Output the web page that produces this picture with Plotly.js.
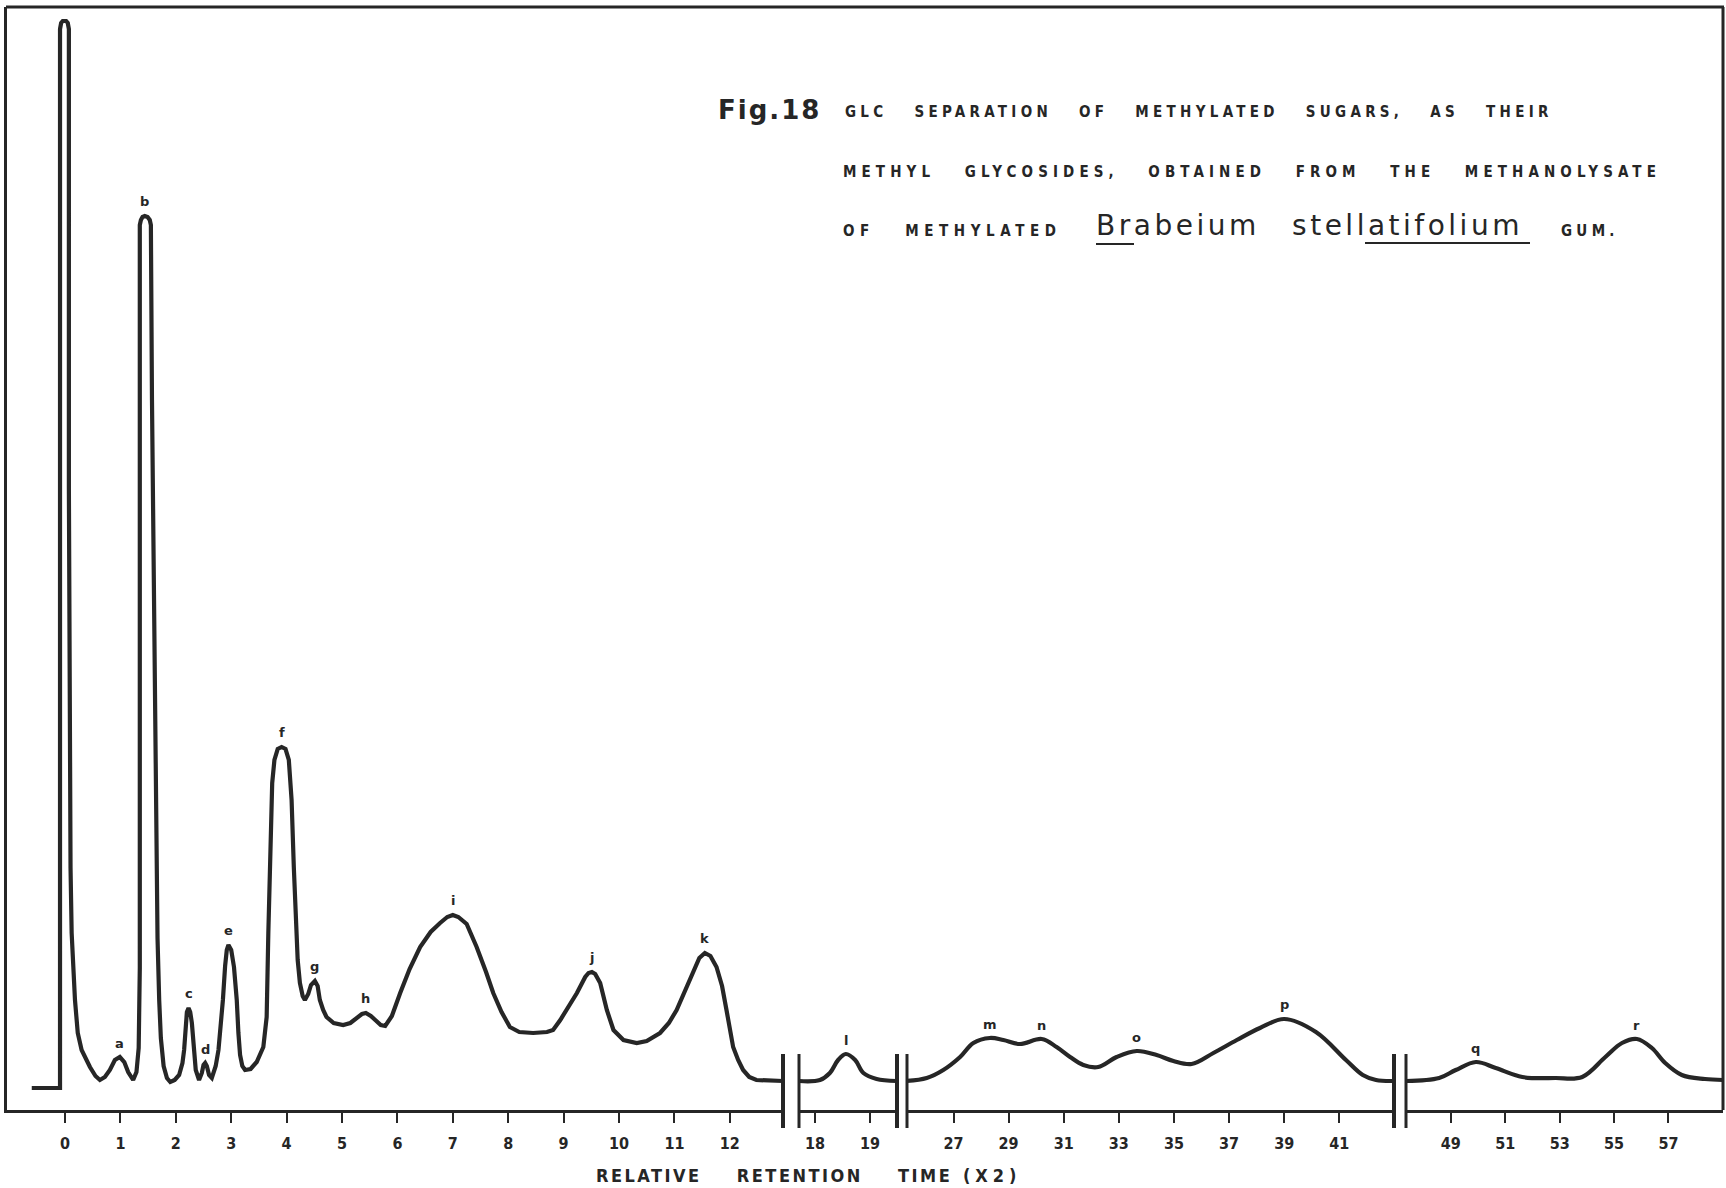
<!DOCTYPE html>
<html>
<head>
<meta charset="utf-8">
<script src="https://cdn.plot.ly/plotly-3.0.1.min.js"></script>
<style>
  html, body { margin: 0; padding: 0; background: #ffffff; }
  #chart { width: 1726px; height: 1188px; }
</style>
</head>
<body>
<div id="chart"></div>
<script>
// GLC trace of the methyl glycosides, recorded on a broken time axis.
// Relative retention time (x2) and detector response (arbitrary units).

// Segment 1: 0 - 13
const seg1Time = [-0.60, -0.09, -0.09, -0.07, -0.04, 0.02, 0.05, 0.07, 0.07, 0.08, 0.10, 0.12, 0.18, 0.23, 0.30, 0.45, 0.55, 0.63,
  0.72, 0.81, 0.90, 0.99, 1.07, 1.14, 1.23,
  1.29, 1.33, 1.35, 1.35, 1.37, 1.40, 1.44, 1.49, 1.53, 1.55, 1.57, 1.62, 1.67, 1.70, 1.73, 1.78, 1.84, 1.90,
  1.98, 2.06, 2.12, 2.15, 2.18, 2.20, 2.23, 2.26, 2.29, 2.32, 2.36, 2.42,
  2.47, 2.50, 2.53, 2.56, 2.60, 2.65,
  2.72, 2.77, 2.81, 2.85, 2.89, 2.92, 2.95, 3.00, 3.05, 3.10, 3.13, 3.16, 3.20, 3.25,
  3.35, 3.46, 3.58, 3.64, 3.67, 3.71, 3.74, 3.78, 3.84, 3.91, 3.98, 4.04, 4.08, 4.09, 4.13, 4.17, 4.20, 4.24, 4.29, 4.33,
  4.39, 4.44, 4.51, 4.56, 4.60, 4.66, 4.72, 4.85, 5.02,
  5.15, 5.28, 5.36, 5.43, 5.52, 5.60, 5.70, 5.78,
  5.90, 6.05, 6.22, 6.41, 6.60, 6.77, 6.90, 7.00, 7.10, 7.25, 7.43, 7.60, 7.73, 7.88, 8.03, 8.20, 8.45, 8.70, 8.81,
  8.94, 9.08, 9.24, 9.39, 9.45, 9.51, 9.57, 9.66, 9.78, 9.90, 10.08, 10.32,
  10.50, 10.74, 10.90, 11.04, 11.20, 11.34, 11.45, 11.55, 11.65, 11.76, 11.86, 11.94, 12.00, 12.06, 12.15, 12.24, 12.35, 12.48, 12.96];
const seg1Resp = [0.0, 0.0, 105.9, 106.5, 106.7, 106.7, 106.5, 105.9, 60.0, 38.8, 22.0, 15.5, 8.8, 5.5, 3.8, 2.1, 1.2, 0.8,
  1.1, 1.8, 2.8, 3.1, 2.6, 1.6, 0.8,
  1.6, 4.0, 12.0, 86.3, 86.8, 87.1, 87.2, 87.1, 86.8, 86.3, 68.8, 38.8, 15.0, 8.8, 5.0, 2.2, 1.0, 0.6,
  0.8, 1.3, 2.5, 3.8, 6.5, 7.6, 8.0, 7.6, 6.5, 4.0, 1.8, 0.8,
  1.5, 2.3, 2.5, 2.2, 1.3, 1.0,
  2.2, 3.8, 6.0, 8.8, 12.2, 13.8, 14.3, 13.8, 12.1, 8.8, 5.5, 3.3, 2.2, 1.8,
  1.9, 2.6, 4.1, 7.1, 15.5, 25.5, 30.5, 32.8, 33.9, 34.1, 33.9, 32.8, 30.0, 28.8, 22.1, 17.1, 12.8, 10.5, 9.2, 8.8,
  9.4, 10.3, 10.7, 10.2, 8.8, 7.8, 7.1, 6.5, 6.3,
  6.5, 7.1, 7.4, 7.5, 7.2, 6.8, 6.3, 6.2,
  7.2, 9.5, 11.9, 14.1, 15.6, 16.5, 17.1, 17.3, 17.1, 16.4, 14.1, 11.6, 9.5, 7.6, 6.1, 5.6, 5.5, 5.6, 5.8,
  6.8, 8.0, 9.5, 11.1, 11.5, 11.6, 11.4, 10.5, 7.8, 5.8, 4.8, 4.5,
  4.7, 5.5, 6.5, 7.8, 9.8, 11.8, 13.0, 13.5, 13.2, 12.1, 10.2, 7.8, 5.8, 4.1, 2.8, 1.8, 1.1, 0.8, 0.7];

// Segment 2: 18 - 19
const seg2Time = [17.71, 18.09, 18.27, 18.42, 18.56, 18.73, 18.88, 19.12, 19.48];
const seg2Resp = [0.7, 0.8, 1.5, 2.8, 3.4, 2.8, 1.5, 0.9, 0.7];

// Segment 3: 27 - 41
const seg3Time = [25.30, 26.03, 26.63, 27.24, 27.72, 28.32, 28.81, 29.41, 30.20, 30.74, 31.23, 31.71, 32.25,
  32.92, 33.65, 34.37, 34.98, 35.64, 36.43, 37.28, 38.12, 39.00, 40.15, 41.24, 41.85, 42.33, 42.94];
const seg3Resp = [0.7, 1.0, 1.8, 3.1, 4.5, 5.0, 4.8, 4.4, 4.9, 4.1, 3.1, 2.3, 2.1,
  3.1, 3.7, 3.3, 2.7, 2.4, 3.5, 4.8, 6.0, 6.9, 5.6, 2.8, 1.3, 0.8, 0.7];

// Segment 4: 49 - 57
const seg4Time = [47.35, 48.57, 49.18, 49.92, 50.65, 51.63, 52.85, 53.83, 54.68, 55.29, 55.84, 56.39, 56.88, 57.49, 58.34, 59.0];
const seg4Resp = [0.7, 1.0, 1.8, 2.6, 2.0, 1.1, 1.0, 1.1, 3.1, 4.5, 4.9, 4.0, 2.5, 1.3, 0.9, 0.8];

// Peak letters and their retention times
const peakNames = ['a', 'b', 'c', 'd', 'e', 'f', 'g', 'h', 'i', 'j', 'k', 'l', 'm', 'n', 'o', 'p', 'q', 'r'];
const peakTimes = [0.99, 1.44, 2.23, 2.53, 2.95, 3.91, 4.51, 5.43, 7.00, 9.51, 11.55, 18.56, 28.32, 30.20, 33.65, 39.00, 49.92, 55.84];

// Tick labels of each axis segment
const seg1Ticks = [0, 1, 2, 3, 4, 5, 6, 7, 8, 9, 10, 11, 12];
const seg2Ticks = [18, 19];
const seg3Ticks = [27, 29, 31, 33, 35, 37, 39, 41];
const seg4Ticks = [49, 51, 53, 55, 57];

// Visible span of each segment
const seg1Range = [-1.047, 12.96];
const seg2Range = [17.709, 19.491];
const seg3Range = [25.313, 42.983];
const seg4Range = [47.351, 59.004];
const respRange = [-2.2, 108.1];

// ---------------------------------------------------------------------------
const W = 1726, H = 1188;
const px = v => v / W;          // horizontal pixel -> paper fraction
const py = v => 1 - v / H;      // vertical pixel -> paper fraction
const INK = '#262626';
const capsFont = 'DejaVu Sans Condensed, Liberation Sans Narrow, DejaVu Sans, sans-serif';

// the steep early part is drawn point to point, the slow late part smoothed
const segments = [
  { time: seg1Time, resp: seg1Resp, axis: 'x', shape: 'linear' },
  { time: seg2Time, resp: seg2Resp, axis: 'x2', shape: 'spline' },
  { time: seg3Time, resp: seg3Resp, axis: 'x3', shape: 'spline' },
  { time: seg4Time, resp: seg4Resp, axis: 'x4', shape: 'spline' }
];

const traces = segments.map(s => ({
  type: 'scatter',
  mode: 'lines',
  x: s.time,
  y: s.resp,
  xaxis: s.axis,
  yaxis: 'y',
  line: { color: INK, width: 4.2, shape: s.shape, smoothing: 1 },
  hoverinfo: 'skip'
}));

function segAxis(domain, range, ticks) {
  return {
    domain: domain,
    range: range,
    anchor: 'y',
    tickmode: 'array',
    tickvals: ticks,
    ticktext: ticks.map(String),
    ticks: 'outside',
    ticklen: 10,
    tickwidth: 2,
    tickcolor: INK,
    ticklabelstandoff: 7,
    tickfont: { family: capsFont, size: 16, color: INK, weight: 'bold' },
    showline: true,
    linecolor: INK,
    linewidth: 3,
    showgrid: false,
    zeroline: false,
    fixedrange: true
  };
}

// Peak letters sit just above each apex
const annotations = peakNames.map((name, k) => {
  const t = peakTimes[k];
  const seg = segments.find(s => s.time.includes(t));
  const yv = seg.resp[seg.time.indexOf(t)];
  return {
    xref: seg.axis, yref: 'y', x: t, y: yv,
    text: name, showarrow: false,
    xanchor: 'center', yanchor: 'middle', yshift: 14,
    font: { family: 'DejaVu Sans, sans-serif', size: 13, color: INK, weight: 'bold' }
  };
});

const spaced = (txt, ls, ws) => `<span style="letter-spacing:${ls}px;word-spacing:${ws}px">${txt}</span>`;
const capStyle = { family: capsFont, size: 15, color: INK, weight: 'bold' };

annotations.push(
  { xref: 'paper', yref: 'paper', x: px(716), y: py(110), xanchor: 'left', yanchor: 'middle', showarrow: false,
    text: spaced('Fig.18', 2, 0), font: { family: 'DejaVu Sans, sans-serif', size: 26, color: INK, weight: 'bold' } },
  { xref: 'paper', yref: 'paper', x: px(843), y: py(112), xanchor: 'left', yanchor: 'middle', showarrow: false,
    text: spaced('GLC SEPARATION OF METHYLATED SUGARS, AS THEIR', 4.3, 18), font: capStyle },
  { xref: 'paper', yref: 'paper', x: px(841), y: py(172), xanchor: 'left', yanchor: 'middle', showarrow: false,
    text: spaced('METHYL GLYCOSIDES, OBTAINED FROM THE METHANOLYSATE', 5.1, 19.8), font: capStyle },
  { xref: 'paper', yref: 'paper', x: px(841), y: py(231), xanchor: 'left', yanchor: 'middle', showarrow: false,
    text: spaced('OF METHYLATED', 5.6, 20), font: capStyle },
  { xref: 'paper', yref: 'paper', x: px(1094), y: py(226), xanchor: 'left', yanchor: 'middle', showarrow: false,
    text: spaced('Brabeium stellatifolium', 3.5, 20), font: { family: 'DejaVu Sans, sans-serif', size: 28, color: INK } },
  { xref: 'paper', yref: 'paper', x: px(1559), y: py(231), xanchor: 'left', yanchor: 'middle', showarrow: false,
    text: spaced('GUM.', 4.3, 18), font: capStyle },
  { xref: 'paper', yref: 'paper', x: px(594), y: py(1175), xanchor: 'left', yanchor: 'middle', showarrow: false,
    text: spaced('RELATIVE RETENTION TIME', 2.5, 27) + spaced('&nbsp;(X2)', 5, 0),
    font: { family: capsFont, size: 18, color: INK, weight: 'bold' } }
);

const frameLine = { color: INK, width: 3 };
const shapes = [
  // top and right edges of the frame
  { type: 'line', xref: 'paper', yref: 'paper', x0: px(6), x1: px(1724), y0: py(7), y1: py(7), line: frameLine },
  { type: 'line', xref: 'paper', yref: 'paper', x0: px(1723), x1: px(1723), y0: py(7), y1: py(1110), line: frameLine }
];
// double bars where the time axis is broken
const breakTop = py(1054), breakBottom = py(1128);
[['x', 'x2'], ['x2', 'x3'], ['x3', 'x4']].forEach(([a, b]) => {
  shapes.push(
    { type: 'line', xref: a + ' domain', yref: 'paper', x0: 1, x1: 1, y0: breakBottom, y1: breakTop, line: { color: INK, width: 4 } },
    { type: 'line', xref: b + ' domain', yref: 'paper', x0: 0, x1: 0, y0: breakBottom, y1: breakTop, line: { color: INK, width: 3 } }
  );
});
// underlining of the species name
shapes.push(
  { type: 'line', xref: 'paper', yref: 'paper', x0: px(1096), x1: px(1134), y0: py(244), y1: py(244), line: { color: INK, width: 2 } },
  { type: 'line', xref: 'paper', yref: 'paper', x0: px(1365), x1: px(1530), y0: py(243), y1: py(243), line: { color: INK, width: 2 } }
);

const layout = {
  width: W,
  height: H,
  margin: { l: 0, r: 0, t: 0, b: 0, pad: 0 },
  paper_bgcolor: '#ffffff',
  plot_bgcolor: 'rgba(0,0,0,0)',
  showlegend: false,
  xaxis: segAxis([px(7), px(783)], seg1Range, seg1Ticks),
  xaxis2: segAxis([px(799), px(897)], seg2Range, seg2Ticks),
  xaxis3: segAxis([px(907), px(1394)], seg3Range, seg3Ticks),
  xaxis4: segAxis([px(1406), px(1723)], seg4Range, seg4Ticks),
  yaxis: {
    domain: [py(1110), py(7)],
    range: respRange,
    anchor: 'x',
    showline: true,
    linecolor: INK,
    linewidth: 3,
    showticklabels: false,
    ticks: '',
    showgrid: false,
    zeroline: false,
    fixedrange: true
  },
  annotations: annotations,
  shapes: shapes
};

Plotly.newPlot('chart', traces, layout, { staticPlot: true, displayModeBar: false });
</script>
</body>
</html>
